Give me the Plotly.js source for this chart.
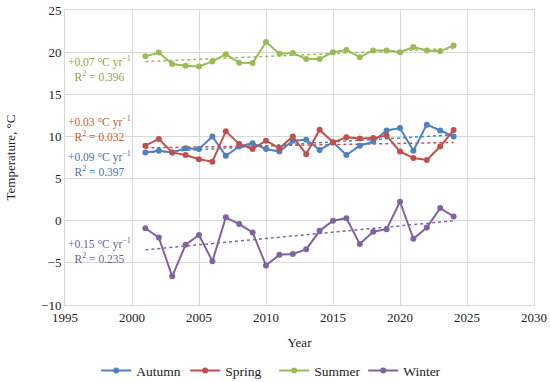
<!DOCTYPE html>
<html>
<head>
<meta charset="utf-8">
<script src="https://cdn.plot.ly/plotly-3.0.1.min.js"></script>
<style>html,body{margin:0;padding:0;background:#fff;}#chart{width:550px;height:382px;}</style>
</head>
<body>
<div id="chart"></div>
<script>
const years = [2001,2002,2003,2004,2005,2006,2007,2008,2009,2010,2011,2012,2013,2014,2015,2016,2017,2018,2019,2020,2021,2022,2023,2024];
const autumn = [8.1,8.3,8.1,8.6,8.5,10.0,7.7,8.8,9.2,8.5,8.2,9.5,9.6,8.4,9.3,7.8,8.9,9.4,10.7,11.0,8.3,11.4,10.7,10.0];
const spring = [8.9,9.7,8.1,7.8,7.3,7.0,10.6,9.1,8.5,9.5,8.6,10.0,7.9,10.8,9.3,9.9,9.75,9.8,10.1,8.2,7.45,7.2,8.8,10.75];
const summer = [19.5,19.95,18.6,18.4,18.3,18.9,19.75,18.75,18.7,21.2,19.8,19.9,19.2,19.2,20.0,20.25,19.4,20.2,20.2,20.0,20.6,20.2,20.1,20.8];
const winter = [-0.9,-2.0,-6.6,-2.85,-1.7,-4.8,0.4,-0.4,-1.4,-5.3,-4.05,-3.95,-3.4,-1.2,0.0,0.3,-2.75,-1.3,-1.0,2.25,-2.15,-0.8,1.5,0.5];
const seriesNames = ['Autumn','Spring','Summer','Winter'];
const trendLabels = ['+0.09 °C yr<sup>−1</sup><br>R<sup>2</sup> = 0.397','+0.03 °C yr<sup>−1</sup><br>R<sup>2</sup> = 0.032','+0.07 °C yr<sup>−1</sup><br>R<sup>2</sup> = 0.396','+0.15 °C yr<sup>−1</sup><br>R<sup>2</sup> = 0.235'];
const labelY = [6.75,11.0,18.1,-3.55];

const FONT = "Liberation Serif, Times New Roman, DejaVu Serif, serif";
const colors = ['#4f81bd','#c0504d','#9bbb59','#8064a2'];
const textColors = ['#4a72ad','#c0652f','#86a84a','#6f5f97'];
const allSeries = [autumn, spring, summer, winter];

function fit(x, y){
  const n = x.length;
  let sx=0, sy=0, sxx=0, sxy=0;
  for(let i=0;i<n;i++){sx+=x[i];sy+=y[i];sxx+=x[i]*x[i];sxy+=x[i]*y[i];}
  const b = (n*sxy - sx*sy)/(n*sxx - sx*sx);
  const a = (sy - b*sx)/n;
  return [a,b];
}

const traces = [];
allSeries.forEach((s,i)=>{
  const [a,b] = fit(years, s);
  const x0 = years[0], x1 = years[years.length-1];
  traces.push({x:[x0,x1], y:[a+b*x0, a+b*x1], mode:'lines', showlegend:false, hoverinfo:'skip',
    line:{color:colors[i], width:1.5, dash:'dot'}});
});
allSeries.forEach((s,i)=>{
  traces.push({x:years, y:s, name:seriesNames[i], mode:'lines+markers',
    line:{color:colors[i], width:2}, marker:{color:colors[i], size:6}});
});

const annotations = trendLabels.map((t,i)=>({
  x:1997.6, y:labelY[i], xref:'x', yref:'y', text:t, showarrow:false,
  font:{family:FONT, size:11.5, color:textColors[i]}, align:'center'
}));

const axisCommon = {gridcolor:'#d9d9d9', gridwidth:1, showline:true, mirror:true, linecolor:'#d9d9d9', linewidth:1,
  ticks:'', zeroline:false, tickfont:{family:FONT, size:13, color:'#222'}};

const layout = {
  width:550, height:382,
  margin:{l:65, r:16, t:10, b:77, autoexpand:false},
  paper_bgcolor:'#fff', plot_bgcolor:'#fff',
  font:{family:FONT, size:13, color:'#222'},
  xaxis:Object.assign({}, axisCommon, {range:[1995,2030], dtick:5, tick0:1995,
    title:{text:'Year', font:{family:FONT, size:13}, standoff:14}}),
  yaxis:Object.assign({}, axisCommon, {range:[-10,25], dtick:5, tick0:-10,
    title:{text:'Temperature, °C', font:{family:FONT, size:13}, standoff:22}}),
  legend:{orientation:'h', x:0.446, xanchor:'center', y:-0.17, yanchor:'top',
    font:{family:FONT, size:13.5, color:'#222'}, itemwidth:30, tracegroupgap:0,
    entrywidth:44, entrywidthmode:'pixels'},
  annotations:annotations,
  showlegend:true
};

Plotly.newPlot('chart', traces, layout, {staticPlot:true, displayModeBar:false});
</script>
</body>
</html>
